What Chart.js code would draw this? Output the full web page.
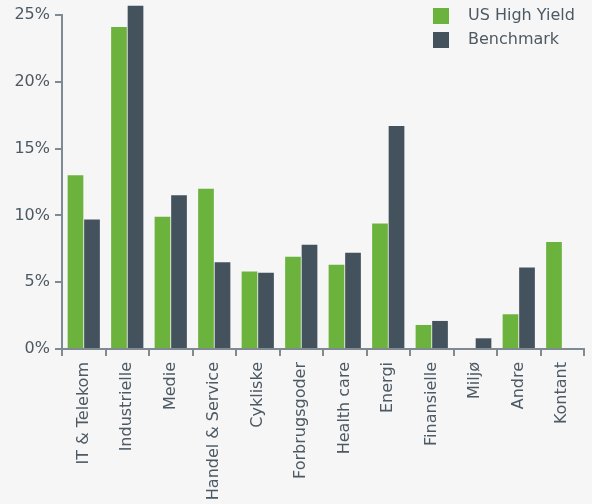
<!DOCTYPE html>
<html>
<head>
<meta charset="utf-8">
<script src="https://cdn.jsdelivr.net/npm/chart.js@4/dist/chart.umd.min.js"></script>
<style>
html,body{margin:0;padding:0;background:#f6f6f6;}
#wrap{width:592px;height:504px;}
</style>
</head>
<body>
<div id="wrap"><canvas id="c" width="592" height="504"></canvas></div>
<script>
const categories = ["IT & Telekom","Industrielle","Medie","Handel & Service","Cykliske","Forbrugsgoder","Health care","Energi","Finansielle","Miljø","Andre","Kontant"];
const usHighYield = [13.0, 24.1, 9.9, 12.0, 5.8, 6.9, 6.3, 9.4, 1.8, 0, 2.6, 8.0];
const benchmark = [9.7, 25.7, 11.5, 6.5, 5.7, 7.8, 7.2, 16.7, 2.1, 0.8, 6.1, 0];
const yTicks = [0, 5, 10, 15, 20, 25];
const seriesNames = ["US High Yield", "Benchmark"];
const colors = ["#6cb33e", "#44525e"];
const textColor = "#4d5963";
const axisColor = "#7f8a93";
const FONT = "'DejaVu Sans', sans-serif";

const legendPlugin = {
  id: 'customLegend',
  afterDraw(chart) {
    const ctx = chart.ctx;
    ctx.save();
    ctx.font = "16px " + FONT;
    ctx.textBaseline = 'middle';
    ctx.textAlign = 'left';
    chart.data.datasets.forEach((ds, i) => {
      const y = 8 + i * 24;
      ctx.fillStyle = ds.backgroundColor;
      ctx.fillRect(433, y, 16, 16);
      ctx.fillStyle = textColor;
      ctx.fillText(ds.label, 468, y + 8);
    });
    ctx.restore();
  }
};

new Chart(document.getElementById('c'), {
  type: 'bar',
  data: {
    labels: categories,
    datasets: [
      {label: seriesNames[0], data: usHighYield, backgroundColor: colors[0], clip: false},
      {label: seriesNames[1], data: benchmark, backgroundColor: colors[1], clip: false}
    ]
  },
  options: {
    responsive: false,
    animation: false,
    devicePixelRatio: 1,
    categoryPercentage: 0.76,
    barPercentage: 0.95,
    layout: {padding: {top: 15, right: 8, left: 0, bottom: 0}},
    plugins: {legend: {display: false}, tooltip: {enabled: false}},
    scales: {
      x: {
        afterFit(scale) { scale.height = 155; },
        grid: {display: true, drawOnChartArea: false, offset: true, tickLength: 7, color: axisColor, lineWidth: 2},
        border: {color: axisColor, width: 2},
        ticks: {color: textColor, font: {family: FONT, size: 16}, minRotation: 90, maxRotation: 90, autoSkip: false, padding: 6}
      },
      y: {
        min: 0, max: 25,
        afterFit(scale) { scale.width = 62; },
        afterBuildTicks(scale) { scale.ticks = yTicks.map(v => ({value: v})); },
        grid: {display: true, drawOnChartArea: false, tickLength: 7, color: axisColor, lineWidth: 2},
        border: {color: axisColor, width: 2},
        ticks: {color: textColor, font: {family: FONT, size: 16}, padding: 5, callback: v => v + '%'}
      }
    }
  },
  plugins: [legendPlugin]
});
</script>
</body>
</html>
